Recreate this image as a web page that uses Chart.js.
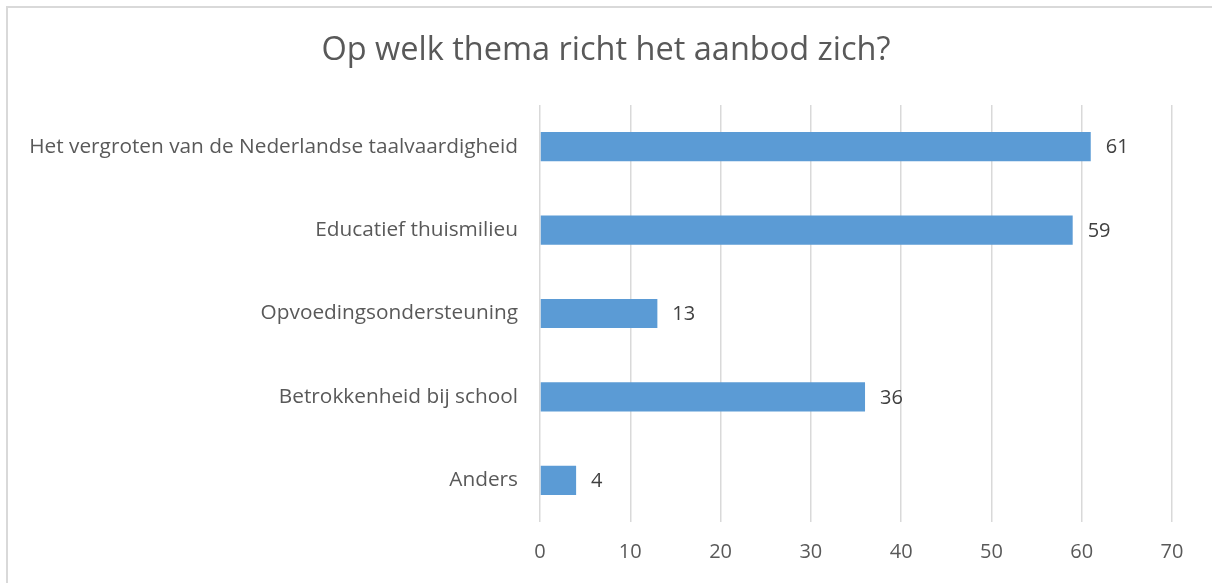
<!DOCTYPE html>
<html>
<head>
<meta charset="utf-8">
<script src="https://cdn.jsdelivr.net/npm/chart.js@4.4.1/dist/chart.umd.min.js"></script>
<style>
  html, body { margin: 0; padding: 0; background: #fff; overflow: hidden; }
  #wrap { position: relative; width: 1212px; height: 583px; }
  #frame { position: absolute; left: 6px; top: 6px; width: 1300px; height: 700px;
           border-top: 2px solid #d9d9d9; border-left: 2px solid #d9d9d9; box-sizing: border-box; }
  canvas { position: absolute; left: 0; top: 0; }
</style>
</head>
<body>
<div id="wrap">
  <div id="frame"></div>
  <canvas id="c" width="1212" height="583"></canvas>
</div>
<script>
const chartTitle = "Op welk thema richt het aanbod zich?";
const categories = [
  "Het vergroten van de Nederlandse taalvaardigheid",
  "Educatief thuismilieu",
  "Opvoedingsondersteuning",
  "Betrokkenheid bij school",
  "Anders"
];
const values = [61, 59, 13, 36, 4];
const axisMin = 0;
const axisMax = 70;
const axisStep = 10;

const FONT = "'Open Sans', 'DejaVu Sans', sans-serif";

const valueLabels = {
  id: 'valueLabels',
  afterDatasetsDraw(chart) {
    const ctx = chart.ctx;
    const meta = chart.getDatasetMeta(0);
    ctx.save();
    ctx.font = "20px " + FONT;
    ctx.fillStyle = "#404040";
    ctx.textBaseline = "middle";
    ctx.textAlign = "left";
    meta.data.forEach((bar, i) => {
      ctx.fillText(String(chart.data.datasets[0].data[i]), bar.x + 15, bar.y + 1);
    });
    ctx.restore();
  }
};

new Chart(document.getElementById('c'), {
  type: 'bar',
  data: {
    labels: categories,
    datasets: [{
      data: values,
      backgroundColor: '#5b9bd5',
      borderWidth: 0,
      barPercentage: 0.35,
      categoryPercentage: 1.0
    }]
  },
  options: {
    indexAxis: 'y',
    responsive: false,
    animation: false,
    devicePixelRatio: 1,
    layout: { padding: { top: 0, left: 0, right: 0, bottom: 0 } },
    plugins: {
      legend: { display: false },
      tooltip: { enabled: false },
      title: {
        display: true,
        text: chartTitle,
        color: '#595959',
        font: { family: FONT, size: 32.5, weight: 'normal', lineHeight: 1.2 },
        padding: { top: 31, bottom: 35 }
      }
    },
    scales: {
      x: {
        min: axisMin, max: axisMax,
        ticks: { stepSize: axisStep, color: '#595959', font: { family: FONT, size: 20 }, padding: 18 },
        grid: { color: '#d9d9d9', lineWidth: 1.5, drawTicks: false },
        border: { display: false },
        afterFit(scale) { scale.height = 61; scale.paddingRight = 40; }
      },
      y: {
        ticks: { color: '#595959', font: { family: FONT, size: 20.8 }, padding: 22 },
        grid: { display: false, drawTicks: false },
        border: { display: false },
        afterFit(scale) { scale.width = 540; }
      }
    }
  },
  plugins: [valueLabels]
});
</script>
</body>
</html>
